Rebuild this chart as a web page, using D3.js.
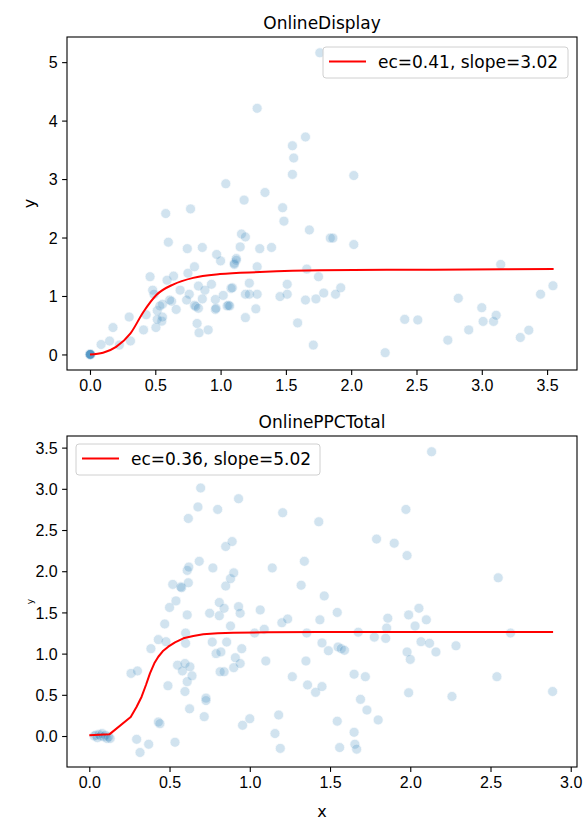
<!DOCTYPE html>
<html>
<head>
<meta charset="utf-8">
<script src="https://cdn.jsdelivr.net/npm/d3@7"></script>
<style>
  body { margin: 0; background: #fff; }
  svg { font-family: "DejaVu Sans", sans-serif; }
  .tick text { font-size: 16px; fill: #000; }
  .tick line { stroke: #000; stroke-width: 1.1px; }
</style>
</head>
<body>
<script>
"use strict";

// --- OnlineDisplay panel data ---
let displayPoints = [
  [0,0],[0.005,0],[0,0.005],[0.003,-0.004],[0,0],[0.004,0.003],
  [0.085,0.17],[0.15,0.23],[0.225,0.16],[0.31,0.23],[0.176,0.46],[0.30,0.64],[0.41,0.42],
  [0.505,0.46],[0.43,0.68],[0.55,0.57],[0.555,0.64],[0.515,0.75],[0.48,1.10],[0.49,1.03],
  [0.46,1.33],[0.555,0.86],[0.625,0.91],[0.66,0.77],[0.59,1.27],[0.64,1.34],[0.69,1.10],
  [0.75,1.39],[0.80,1.50],[0.76,1.03],[0.74,0.93],[0.80,0.84],[0.81,0.82],[0.83,0.79],
  [0.83,1.17],[0.88,1.10],[0.93,1.20],[0.86,0.95],[0.96,0.94],[0.96,0.77],[0.965,0.79],
  [1.02,1.01],[1.05,0.83],[0.82,0.53],[0.835,0.37],[0.905,0.42],[0.60,1.92],[0.745,1.81],
  [0.86,1.83],[0.97,1.71],[1.00,1.60],[1.105,1.56],[1.12,1.64],[1.15,1.84],[1.16,2.06],
  [1.19,2.01],[0.535,0.83],[0.61,0.93],[0.515,0.60],[0.58,2.41],[0.77,2.49],
  [1.04,2.92],[1.18,2.64],[1.34,2.77],[1.475,2.51],[1.485,2.28],[1.68,2.13],[1.28,4.21],
  [1.65,3.72],[1.55,3.57],[1.56,3.36],[1.55,3.08],[1.76,5.16],[2.02,3.06],
  [1.84,1.99],[1.86,1.99],[2.02,1.88],[1.30,1.81],[1.39,1.83],[1.12,1.61],[1.105,1.54],
  [1.28,1.50],[1.66,1.46],[1.75,1.33],[1.51,1.20],[1.92,1.14],[1.79,1.05],[1.88,1.03],
  [1.51,1.03],[1.455,0.99],[1.65,0.93],[1.73,0.95],[1.59,0.54],[1.71,0.16],[1.08,1.13],
  [1.09,1.14],[1.22,1.22],[1.19,1.03],[1.22,1.03],[1.28,1.03],[1.06,0.84],[1.07,0.83],
  [1.19,0.63],[1.27,0.78],
  [2.26,0.03],[2.41,0.60],[2.51,0.59],[2.74,0.245],[2.82,0.96],[2.90,0.42],[3.00,0.80],
  [3.01,0.565],[3.09,0.565],[3.11,0.67],[3.145,1.54],[3.295,0.29],[3.36,0.415],[3.45,1.03],
  [3.545,1.175]
]
let displayCurve = [
  [0,0],[0.10,0.03],[0.20,0.13],[0.31,0.36],[0.41,0.73],[0.51,1.02],[0.64,1.20],
  [0.79,1.31],[0.995,1.375],[1.30,1.41],[1.76,1.44],[2.63,1.45],[3.55,1.46]
]
let displayXTicks = [0,0.5,1,1.5,2,2.5,3,3.5]
let displayYTicks = [0,1,2,3,4,5]

// --- OnlinePPCTotal panel data ---
let ppcPoints = [
  [0.03,0.0],[0.04,0.01],[0.05,-0.02],[0.06,0.02],[0.07,0.0],[0.08,0.03],[0.09,-0.01],
  [0.10,0.01],[0.11,-0.03],[0.12,-0.01],[0.13,-0.03],
  [0.26,0.76],[0.30,0.79],[0.295,-0.04],[0.37,-0.10],[0.316,-0.20],[0.384,1.06],[0.43,1.17],
  [0.478,1.145],[0.43,0.17],[0.44,0.15],[0.47,1.36],[0.49,0.61],[0.50,1.56],[0.52,1.84],
  [0.534,-0.076],[0.54,1.64],[0.55,0.86],[0.57,1.81],[0.575,1.80],[0.58,0.79],[0.596,0.88],
  [0.596,0.54],[0.60,1.25],[0.60,1.125],[0.61,1.47],[0.61,0.66],[0.61,2.01],[0.617,1.86],
  [0.617,2.64],[0.62,2.05],[0.625,0.33],[0.627,0.84],[0.64,0.73],[0.677,2.78],[0.685,2.12],
  [0.694,3.01],[0.716,0.235],[0.727,0.46],[0.727,0.43],[0.75,1.49],[0.766,1.14],[0.77,2.04],
  [0.79,1.00],[0.80,2.75],[0.81,1.62],[0.81,1.46],[0.815,0.78],[0.82,1.02],[0.84,1.55],
  [0.84,0.78],[0.85,1.82],[0.85,2.30],[0.856,1.14],[0.88,1.91],[0.88,1.335],[0.89,2.36],
  [0.90,1.98],[0.90,0.83],[0.91,0.95],[0.93,2.88],[0.93,1.57],[0.94,1.49],[0.94,0.88],
  [0.95,1.06],[0.955,0.13],[1.0,0.21],[1.03,1.25],[1.065,1.53],[1.09,1.295],[1.10,0.91],
  [1.14,2.04],[1.157,0.03],[1.18,0.255],[1.19,-0.15],[1.20,1.375],[1.205,2.71],[1.236,1.42],
  [1.265,0.72],[1.32,1.83],[1.34,2.12],[1.35,0.91],[1.355,1.25],[1.36,0.62],[1.41,0.53],
  [1.43,2.60],[1.437,1.41],[1.45,1.13],[1.45,0.60],[1.464,1.70],[1.49,1.035],[1.545,1.50],
  [1.545,0.18],[1.55,1.08],[1.56,-0.14],[1.57,1.06],[1.59,1.04],[1.65,0.75],[1.65,0.045],
  [1.655,-0.10],[1.666,-0.16],[1.676,1.26],[1.69,0.445],[1.72,0.72],[1.73,0.315],[1.776,1.20],
  [1.79,2.39],[1.80,0.195],[1.847,1.185],[1.853,1.31],[1.86,1.43],[1.90,2.34],[1.973,2.75],
  [1.98,2.19],[1.98,1.02],[1.99,1.47],[1.99,0.525],[2.00,0.93],[2.03,1.335],[2.054,1.55],
  [2.067,1.145],[2.10,1.41],[2.12,1.125],[2.133,3.45],[2.16,1.02],[2.26,0.48],[2.285,1.095],
  [2.54,0.72],[2.548,1.92],[2.625,1.25],[2.887,0.54]
]
let ppcCurve = [
  [0,0.01],[0.125,0.02],[0.258,0.23],[0.295,0.356],[0.326,0.477],[0.353,0.619],
  [0.378,0.761],[0.405,0.882],[0.43,0.962],[0.461,1.035],[0.492,1.084],[0.534,1.137],
  [0.586,1.186],[0.648,1.214],[0.71,1.234],[0.80,1.247],[0.897,1.254],[1.10,1.259],
  [1.437,1.262],[2.89,1.262]
]
let ppcXTicks = [0,0.5,1,1.5,2,2.5,3]
let ppcYTicks = [0,0.5,1,1.5,2,2.5,3,3.5]

let W = 585, H = 821
let svg = d3.select("body").append("svg")
    .attr("width", W).attr("height", H)

/**
 * Draw one scatter + fitted curve panel
 */
function drawPanel(cfg){
  let x = d3.scaleLinear().domain(cfg.xDomain).range([cfg.left, cfg.right])
  let y = d3.scaleLinear().domain(cfg.yDomain).range([cfg.bottom, cfg.top])
  let g = svg.append("g")

  g.append("g")
    .attr("transform", "translate(0," + cfg.bottom + ")")
    .call(d3.axisBottom(x).tickValues(cfg.xTicks).tickFormat(d3.format(".1f"))
      .tickSize(4.9).tickPadding(4.4))
    .call(a => a.select(".domain").remove())
  g.append("g")
    .attr("transform", "translate(" + cfg.left + ",0)")
    .call(d3.axisLeft(y).tickValues(cfg.yTicks).tickFormat(d3.format(cfg.yFormat))
      .tickSize(4.9).tickPadding(4.4))
    .call(a => a.select(".domain").remove())
    .selectAll("text").attr("dy", "0.36em")

  // scatter
  g.append("g").selectAll("circle")
    .data(cfg.points)
    .join("circle")
      .attr("cx", d => x(d[0]))
      .attr("cy", d => y(d[1]))
      .attr("r", 5)
      .attr("fill", "#1f77b4")
      .attr("stroke", "#fff")
      .attr("stroke-width", 0.7)
      .attr("opacity", 0.2)

  // fitted curve
  g.append("path")
    .datum(cfg.curve)
    .attr("fill", "none")
    .attr("stroke", "red")
    .attr("stroke-width", 2)
    .attr("stroke-linejoin", "round")
    .attr("d", d3.line().x(d => x(d[0])).y(d => y(d[1])).curve(cfg.curveType))

  // frame
  g.append("rect")
    .attr("x", cfg.left).attr("y", cfg.top)
    .attr("width", cfg.right - cfg.left).attr("height", cfg.bottom - cfg.top)
    .attr("fill", "none").attr("stroke", "#000").attr("stroke-width", 1.1)

  g.append("text")
    .attr("x", (cfg.left + cfg.right) / 2).attr("y", cfg.top - 8)
    .attr("text-anchor", "middle").attr("font-size", "17px")
    .text(cfg.title)

  g.append("text")
    .attr("transform", "translate(" + cfg.ylabX + "," + (cfg.top + cfg.bottom) / 2 + ") rotate(-90)")
    .attr("text-anchor", "middle").attr("font-size", cfg.ylabSize)
    .text("y")

  if (cfg.xlabel){
    g.append("text")
      .attr("x", (cfg.left + cfg.right) / 2).attr("y", cfg.bottom + 50)
      .attr("text-anchor", "middle").attr("font-size", "16px")
      .text(cfg.xlabel)
  }

  // legend
  let lg = g.append("g").attr("transform", "translate(" + cfg.legX + "," + cfg.legY + ")")
  lg.append("rect")
    .attr("width", cfg.legW).attr("height", 31).attr("rx", 3)
    .attr("fill", "#fff").attr("fill-opacity", 0.8)
    .attr("stroke", "#d0d0d0").attr("stroke-width", 1)
  lg.append("line")
    .attr("x1", 6).attr("x2", 43).attr("y1", 14.5).attr("y2", 14.5)
    .attr("stroke", "red").attr("stroke-width", 2)
  lg.append("text")
    .attr("x", 55).attr("y", 21).attr("font-size", "17px")
    .text(cfg.legend)
}

drawPanel({
  points: displayPoints, curve: displayCurve, curveType: d3.curveMonotoneX,
  xDomain: [-0.176, 3.729], yDomain: [-0.266, 5.43],
  xTicks: displayXTicks, yTicks: displayYTicks, yFormat: "d",
  left: 67, right: 577, top: 37, bottom: 370,
  title: "OnlineDisplay", ylabX: 35, ylabSize: "16px",
  legend: "ec=0.41, slope=3.02", legX: 323, legY: 47, legW: 245
})

drawPanel({
  points: ppcPoints, curve: ppcCurve, curveType: d3.curveLinear,
  xDomain: [-0.139, 3.039], yDomain: [-0.376, 3.641],
  xTicks: ppcXTicks, yTicks: ppcYTicks, yFormat: ".1f",
  left: 67, right: 577, top: 436, bottom: 767,
  title: "OnlinePPCTotal", ylabX: 33, ylabSize: "9px", xlabel: "x",
  legend: "ec=0.36, slope=5.02", legX: 76, legY: 444, legW: 244
})
</script>
</body>
</html>
